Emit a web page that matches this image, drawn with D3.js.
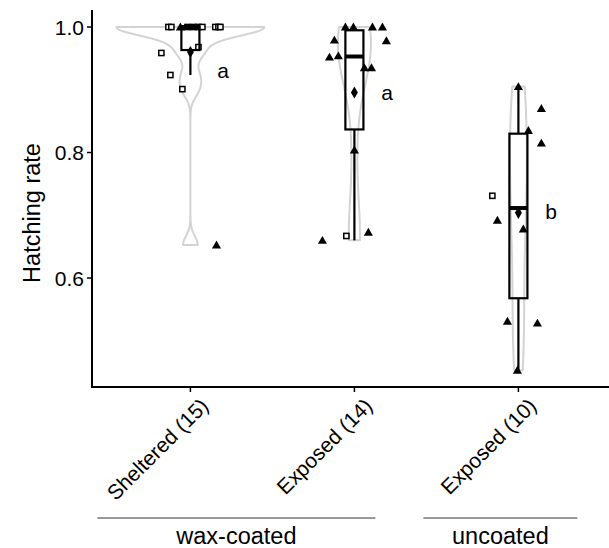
<!DOCTYPE html>
<html><head><meta charset="utf-8">
<script src="https://cdn.jsdelivr.net/npm/d3@7"></script>
<style>
body{margin:0;background:#fff}
text{font-family:"Liberation Sans",Arial,Helvetica,sans-serif;fill:#000}
</style></head>
<body><svg id="c" width="609" height="548"></svg>
<script>
// ---- data ----
const categories = ["Sheltered (15)", "Exposed (14)", "Exposed (10)"];
const groupLabels = ["wax-coated", "uncoated"];
const groupMembers = [[0, 1], [2]];
const letters = ["a", "a", "b"];
const letterValues = [0.93, 0.895, 0.705];
const yTicks = [0.6, 0.8, 1.0];

const shelteredValues = [1,1,1,1,1,1,1,1,1,1,0.968,0.9586,0.9235,0.901,0.6526];
const shelteredShapes = ["s","s","t","s","s","s","s","s","s","s","s","s","s","s","t"];
const shelteredJitter = [-0.134,-0.116,-0.061,-0.018,0.018,0.049,0.073,0.152,0.171,0.183,0.049,-0.177,-0.122,-0.049,0.159];

const exposedWaxValues = [1,1,1,1,0.979,0.978,0.952,0.954,0.935,0.935,0.804,0.660,0.667,0.673];
const exposedWaxShapes = ["t","t","t","t","t","t","t","t","t","t","t","t","s","t"];
const exposedWaxJitter = [-0.055,-0.006,0.110,0.171,-0.122,0.195,-0.152,-0.098,0.061,0.104,0,-0.195,-0.049,0.085];

const uncoatedValues = [0.905,0.87,0.835,0.815,0.731,0.692,0.678,0.531,0.528,0.453];
const uncoatedShapes = ["t","t","t","t","s","t","t","t","t","t"];
const uncoatedJitter = [0,0.140,0.061,0.140,-0.159,-0.128,0.030,-0.067,0.116,-0.006];

const seriesValues = [shelteredValues, exposedWaxValues, uncoatedValues];
const seriesShapes = [shelteredShapes, exposedWaxShapes, uncoatedShapes];
const seriesJitter = [shelteredJitter, exposedWaxJitter, uncoatedJitter];

// ---- layout ----
const W = 609, H = 548;
const svg = d3.select("#c");
const x = d3.scalePoint().domain(d3.range(categories.length)).range([92, 616.8]).padding(0.6);
const step = x.step();
const y = d3.scaleLinear().domain([0.4263, 1.0271]).range([387, 10]);

function q7(sorted, p){ const h=(sorted.length-1)*p, lo=Math.floor(h), hi=Math.ceil(h); return sorted[lo]+(h-lo)*(sorted[hi]-sorted[lo]); }
function nrd0(v){
  const s = v.slice().sort(d3.ascending);
  const sd = d3.deviation(v);
  const iqr = q7(s,0.75)-q7(s,0.25);
  let lo = Math.min(sd, iqr/1.34);
  if(!(lo>0)) lo = sd || Math.abs(s[0]) || 1;
  return 0.9*lo*Math.pow(v.length,-0.2);
}
const kdes = seriesValues.map(v=>{
  const bw = nrd0(v), mn=d3.min(v), mx=d3.max(v), n=512;
  return d3.range(n).map(i=>{
    const t = mn + (mx-mn)*i/(n-1);
    const d = d3.sum(v, xi=>Math.exp(-0.5*((t-xi)/bw)**2))/(v.length*bw*Math.sqrt(2*Math.PI));
    return [t,d];
  });
});
const maxD = d3.max(kdes, k=>d3.max(k, p=>p[1]));
const halfW = 0.9*step/2;

const g = svg.append("g");

// violins
kdes.forEach((k,i)=>{
  const cx = x(i);
  const right = k.map(p=>[cx + halfW*p[1]/maxD, y(p[0])]);
  const left = k.slice().reverse().map(p=>[cx - halfW*p[1]/maxD, y(p[0])]);
  g.append("path").attr("d", d3.line()(right.concat(left))+"Z")
    .attr("fill","none").attr("stroke","#d3d3d3").attr("stroke-width",2).attr("stroke-linejoin","round");
});

// points
const tri = d3.symbol().type(d3.symbolTriangle).size(36);
seriesValues.forEach((v,i)=>{
  v.forEach((val,j)=>{
    const px = x(i) + seriesJitter[i][j]*step, py = y(val);
    if(seriesShapes[i][j]==="t"){
      g.append("path").attr("d", tri()).attr("transform",`translate(${px},${py+0.8})`).attr("fill","#000");
    } else {
      g.append("rect").attr("x",px-2.6).attr("y",py-2.6).attr("width",5.2).attr("height",5.2)
        .attr("fill","#fff").attr("stroke","#000").attr("stroke-width",1.5);
    }
  });
});

// boxplots
const bw2 = 0.11*step/2;
seriesValues.forEach((v,i)=>{
  const s = v.slice().sort(d3.ascending);
  const q1=q7(s,0.25), med=q7(s,0.5), q3=q7(s,0.75), iqr=q3-q1;
  const lo = d3.min(s.filter(d=>d>=q1-1.5*iqr)), hi = d3.max(s.filter(d=>d<=q3+1.5*iqr));
  const cx = x(i);
  g.append("line").attr("x1",cx).attr("x2",cx).attr("y1",y(q3)).attr("y2",y(hi)).attr("stroke","#000").attr("stroke-width",2.2);
  g.append("line").attr("x1",cx).attr("x2",cx).attr("y1",y(q1)).attr("y2",y(lo)).attr("stroke","#000").attr("stroke-width",2.2);
  g.append("rect").attr("x",cx-bw2).attr("width",2*bw2).attr("y",y(q3)).attr("height",Math.max(0,y(q1)-y(q3)))
    .attr("fill","none").attr("stroke","#000").attr("stroke-width",2.2);
  g.append("line").attr("x1",cx-bw2).attr("x2",cx+bw2).attr("y1",y(med)).attr("y2",y(med)).attr("stroke","#000").attr("stroke-width",4);
  const m = d3.mean(v);
  g.append("path").attr("d", d3.symbol().type(d3.symbolDiamond).size(42)()).attr("transform",`translate(${cx},${y(m)})`).attr("fill","#000");
  g.append("text").attr("x", cx + 0.163*step).attr("y", y(letterValues[i])).attr("dy","0.35em")
    .attr("font-size",21).attr("text-anchor","start").text(letters[i]);
});

// axes
svg.append("line").attr("x1",92).attr("x2",92).attr("y1",y.range()[1]).attr("y2",388).attr("stroke","#000").attr("stroke-width",2);
svg.append("line").attr("x1",91).attr("x2",W).attr("y1",387).attr("y2",387).attr("stroke","#000").attr("stroke-width",2);
yTicks.forEach(t=>{
  svg.append("line").attr("x1",87).attr("x2",92).attr("y1",y(t)).attr("y2",y(t)).attr("stroke","#000").attr("stroke-width",1.5);
  svg.append("text").attr("x",84).attr("y",y(t)).attr("dy","0.36em").attr("text-anchor","end").attr("font-size",21).text(t.toFixed(1));
});
categories.forEach((c,i)=>{
  svg.append("line").attr("x1",x(i)).attr("x2",x(i)).attr("y1",387).attr("y2",392).attr("stroke","#000").attr("stroke-width",1.5);
  svg.append("text").attr("transform",`translate(${x(i)+9},${397}) rotate(-45)`).attr("text-anchor","end")
    .attr("dy","0.7em").attr("font-size",21).text(c);
});
svg.append("text").attr("transform",`translate(40,213) rotate(-90)`).attr("text-anchor","middle")
  .attr("font-size",23.5).text("Hatching rate");

// group brackets
const groupSpans = [[x(0)-93, x(1)+21],[x(2)-95, x(2)+59]];
groupLabels.forEach((lab,gi)=>{
  const [a,b] = groupSpans[gi];
  svg.append("line").attr("x1",a).attr("x2",b).attr("y1",518).attr("y2",518).attr("stroke","#333").attr("stroke-width",1);
  svg.append("text").attr("x",(a+b)/2).attr("y",544).attr("text-anchor","middle").attr("font-size",23.5).text(lab);
});
</script></body></html>
